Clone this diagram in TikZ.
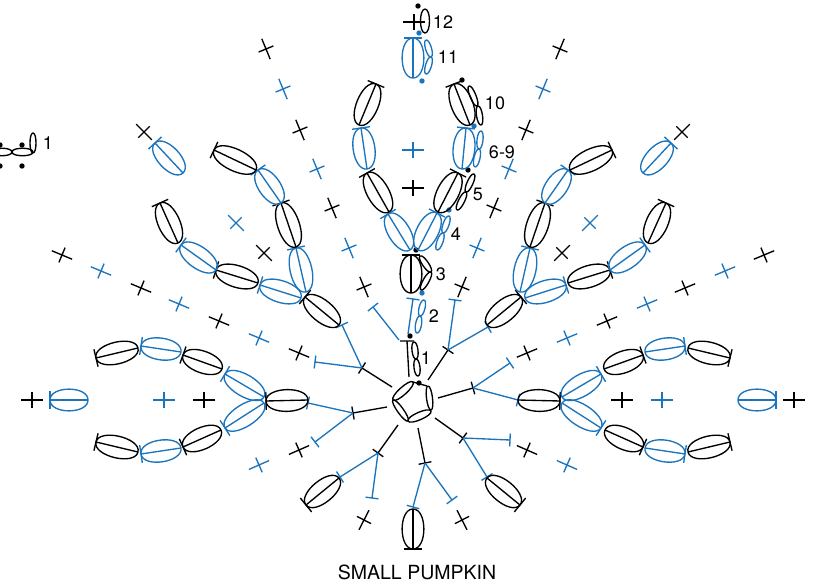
\documentclass[tikz,border=0pt]{standalone}
\usepackage{fontspec}
\setmainfont{TeX Gyre Heros}
\usetikzlibrary{calc}
\definecolor{chartblue}{RGB}{28,117,188}
\tikzset{
  blk/.style={black},
  blu/.style={chartblue},
  rowlabel/.style={font=\fontsize{18}{20}\selectfont, inner sep=0pt},
}
% chain loop: width, colour, from, to
\newcommand{\lens}[4][4pt]{%
  \draw[#2] (#3) .. controls ($(#3)!#1!90:(#4)$) and ($(#4)!#1!-90:(#3)$) .. (#4)
    .. controls ($(#4)!#1!90:(#3)$) and ($(#3)!#1!-90:(#4)$) .. (#3);}
% tall stitch: colour, base, top
\newcommand{\ovst}[3]{%
  \lens[14.5pt]{#1}{#2}{#3}%
  \draw[#1] (#2) -- (#3) ($(#3)!9pt!90:(#2)$) -- ($(#3)!9pt!-90:(#2)$);}
% half stitch: colour, base, top
\newcommand{\hdst}[3]{%
  \draw[#1] (#2) -- (#3) ($(#3)!6.5pt!90:(#2)$) -- ($(#3)!6.5pt!-90:(#2)$);}
% single stitch: colour, position, angle
\newcommand{\scst}[3]{%
  \draw[#1, shift={(#2)}, rotate=#3] (-11,0) -- (11,0) (0,-8) -- (0,8);}
% slip stitch
\newcommand{\slst}[2]{\fill[#1] (#2) circle (2.7pt);}

\begin{document}
\begin{tikzpicture}[x=1pt, y=-1pt, line width=1.35pt]
  \useasboundingbox (0,0) rectangle (815,585);

  % magic ring
  \lens[5pt]{blk}{393,400}{413,382}
  \draw[blk] (413,382) -- (427,386);
  \lens[4pt]{blk}{428,386}{431,410}
  \lens[5pt]{blk}{431,411}{408,421}
  \lens[4pt]{blk}{408,421}{393,400}
  \slst{blk}{419,383}

  % round 1
  \coordinate (rUL) at (362,368);
  \coordinate (rL) at (353,413);
  \coordinate (rDL) at (378,453);
  \coordinate (rD) at (425,463);
  \coordinate (rDR) at (463,438);
  \coordinate (rR) at (473,388);
  \coordinate (rUR) at (448,350);
  \hdst{blk}{392,387}{rUL}
  \hdst{blk}{387,407}{rL}
  \hdst{blk}{398,425}{rDL}
  \hdst{blk}{418,428}{rD}
  \hdst{blk}{435,418}{rDR}
  \hdst{blk}{438,398}{rR}
  \hdst{blk}{428,380}{rUR}

  % round 2
  \hdst{blu}{399,340}{373,307}
  \hdst{blu}{rUL}{342,325}
  \hdst{blu}{rUL}{315,362}
  \hdst{blu}{rL}{308,403}
  \hdst{blu}{rL}{315,442}
  \hdst{blu}{rDL}{340,477}
  \hdst{blu}{rDL}{372,498}
  \hdst{blu}{rD}{413,507}
  \hdst{blu}{rD}{452,500}
  \hdst{blu}{rDR}{487,477}
  \hdst{blu}{rDR}{510,440}
  \hdst{blu}{rR}{518,400}
  \hdst{blu}{rR}{510,363}
  \hdst{blu}{rUR}{488,327}
  \hdst{blu}{rUR}{455,300}

  % bottom lobe
  \ovst{blk}{413,509}{413,549}

  % both halves of the body
  \foreach \s in {1,-1}{
  \begin{scope}[shift={(413,0)}, xscale=\s]
    % ridges
    \scst{blk}{49,287}{67.6} \scst{blu}{64,248}{67.6} \scst{blk}{81,208}{67.6}
    \scst{blu}{96,169}{67.6} \scst{blk}{113,130}{67.6} \scst{blu}{130,89}{67.6}
    \scst{blk}{147,49}{67.6}
    \scst{blk}{114,353}{22.7} \scst{blu}{154,338}{22.7} \scst{blk}{194,321}{22.7}
    \scst{blu}{234,304}{22.7} \scst{blk}{272,288}{22.7} \scst{blu}{312,271}{22.7}
    \scst{blk}{351,255}{22.7}
    \scst{blk}{114,450}{-23.7} \scst{blu}{154,465}{-23.7}
    \scst{blk}{49,520}{-63}
    % side lobe
    \ovst{blk}{105,400}{147,401}
    \ovst{blu}{149,397}{188,374} \ovst{blk}{191,369}{230,355}
    \ovst{blu}{232,352}{272,346} \ovst{blk}{275,348}{317,358}
    \ovst{blu}{149,403}{188,428} \ovst{blk}{192,430}{230,447}
    \ovst{blu}{232,448}{272,454} \ovst{blk}{275,452}{317,442}
    \scst{blk}{209,400}{0} \scst{blu}{249,400}{0}
    \ovst{blu}{325,400}{363,400} \scst{blk}{381,400}{0}
    % upper lobe
    \ovst{blk}{74,325}{108,297}
    \ovst{blu}{107,292}{117,248} \ovst{blk}{117,247}{132,203}
    \ovst{blu}{132,203}{155,170} \ovst{blk}{157,170}{199,150}
    \ovst{blu}{112,298}{153,285} \ovst{blk}{155,283}{197,270}
    \ovst{blu}{197,270}{232,245} \ovst{blk}{235,243}{253,203}
    \scst{blk}{149,253}{45} \scst{blu}{177,223}{45}
    \ovst{blu}{230,173}{258,143} \scst{blk}{269,132}{45}
    % lower lobe
    \ovst{blk}{74,478}{107,505}
  \end{scope}
  }

  % stem rows 1-12
  \draw[blk] (409,377) -- (407,341) (400,341) -- (414,341);
  \lens{blk}{414,342}{416,359} \lens{blk}{416,359}{418,376}
  \slst{blk}{410,336}
  \hdst{blu}{408,334}{413,299}
  \lens{blu}{424,300}{420,316} \lens{blu}{420,316}{417,333}
  \slst{blu}{422,293}
  \ovst{blk}{411,293}{411,255}
  \lens{blk}{420,256}{431,272} \lens{blk}{431,272}{421,290}
  \slst{blk}{416,250}
  \ovst{blu}{410,250}{388,214} \ovst{blu}{418,250}{437,213}
  \lens{blu}{437,250}{443,233} \lens{blu}{443,233}{449,216}
  \slst{blu}{449,210}
  \ovst{blk}{389,212}{367,173} \ovst{blk}{438,212}{458,173}
  \lens{blk}{457,210}{466,192} \lens{blk}{466,192}{474,174}
  \scst{blk}{413,188}{0}
  \slst{blk}{468,170}
  \ovst{blu}{367,169}{361,128} \ovst{blu}{462,169}{466,128}
  \lens{blu}{475,167}{479,149} \lens{blu}{479,149}{481,131}
  \scst{blu}{413,150}{0}
  \slst{blu}{474,126}
  \ovst{blk}{359,125}{376,84} \ovst{blk}{470,125}{454,84}
  \lens{blk}{469,86}{477,106} \lens{blk}{478,106}{481,125}
  \slst{blk}{462,80}
  \ovst{blu}{413,78}{413,38}
  \lens{blu}{426,40}{431,57} \lens{blu}{431,57}{426,74}
  \slst{blu}{422,81} \slst{blu}{419,33}
  \scst{blk}{414,22}{0}
  \lens[6pt]{blk}{425,9}{425,33}
  \slst{blk}{418,6}

  % row numbers
  \node[rowlabel] (n1) at (426,358) {1};
  \node[rowlabel] (n2) at (434,316) {2};
  \node[rowlabel] (n3) at (441,274) {3};
  \node[rowlabel] (n4) at (456,234) {4};
  \node[rowlabel] (n5) at (478,194) {5};
  \node[rowlabel] (n6) at (502,152) {6-9};
  \node[rowlabel] (n10) at (495,103) {10};
  \node[rowlabel] (n11) at (448,57) {11};
  \node[rowlabel] (n12) at (443,22) {12};

  % piece cut by the left edge
  \lens[5pt]{blk}{-8,152}{12,152}
  \lens[5pt]{blk}{12,152}{33,152}
  \lens[4pt]{blk}{33,153}{33,133}
  \slst{blk}{0,145} \slst{blk}{0,166} \slst{blk}{22,145} \slst{blk}{22,166}
  \node[rowlabel] (e1) at (48,143) {1};

  % title
  \node[font=\fontsize{19.5}{22}\selectfont, inner sep=0pt] (title) at (417,572) {SMALL PUMPKIN};
\end{tikzpicture}
\end{document}
